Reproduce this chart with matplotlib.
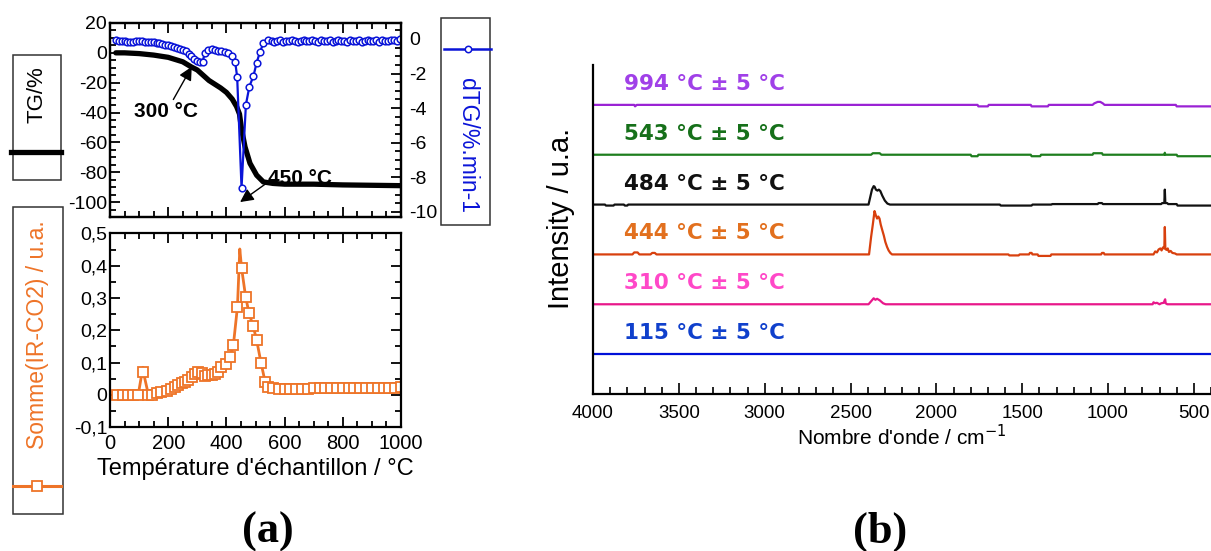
import matplotlib
matplotlib.use('Agg')
import matplotlib.pyplot as plt
from matplotlib.ticker import MultipleLocator
from matplotlib.patches import Rectangle
from matplotlib.lines import Line2D

plt.rcParams['font.family'] = ['Liberation Sans', 'DejaVu Sans']
plt.rcParams['axes.unicode_minus'] = False

# --- (a) TG / dTG ---
tg_t = [20, 50, 100, 150, 200, 250, 280, 300, 320, 340, 360, 380, 400, 420, 435, 445,
        452, 464, 481, 504, 527, 560, 600, 700, 800, 1000]
tg_v = [0, 0, -0.5, -1.5, -3, -6, -9.5, -11.5, -15, -18.5, -21, -23.5, -26.5, -31, -36, -41,
        -51, -63, -74, -82, -86.5, -87.5, -88, -88, -88.5, -89]

dtg_t = [20, 30, 40, 50, 60, 70, 80, 90, 100, 110, 120, 130, 140, 150, 160, 170, 180, 190,
         200, 210, 220, 230, 240, 250, 260, 270, 280, 290, 300, 310, 318, 326, 338, 350, 362,
         372, 382, 394, 407, 418, 430, 437, 452, 467, 479, 493, 504, 515, 527, 544,
         555, 565, 575, 585, 595, 605, 615, 625, 635, 645, 655, 665, 675, 685, 695, 705, 715,
         725, 735, 745, 755, 765, 775, 785, 795, 805, 815, 825, 835, 845, 855, 865, 875, 885,
         895, 905, 915, 925, 935, 945, 955, 965, 975, 985, 995]
dtg_v = [-0.05, -0.1, -0.1, -0.12, -0.15, -0.15, -0.15, -0.12, -0.1, -0.12, -0.15, -0.15,
         -0.18, -0.2, -0.22, -0.25, -0.3, -0.35, -0.38, -0.42, -0.45, -0.5, -0.58, -0.65,
         -0.72, -0.85, -1.0, -1.15, -1.3, -1.32, -1.31, -0.83, -0.65, -0.6, -0.62, -0.7, -0.72,
         -0.75, -0.83, -1.0, -1.31, -2.2, -8.6, -3.8, -2.75, -2.14, -1.37, -0.77, -0.25, -0.06,
         -0.1, -0.15, -0.12, -0.08, -0.15, -0.1, -0.12, -0.08, -0.1, -0.15, -0.1, -0.08, -0.12,
         -0.1, -0.05, -0.12, -0.15, -0.08, -0.1, -0.12, -0.05, -0.15, -0.1, -0.08, -0.12, -0.1,
         -0.15, -0.05, -0.1, -0.12, -0.08, -0.15, -0.1, -0.05, -0.12, -0.1, -0.08, -0.15, -0.05,
         -0.1, -0.12, -0.08, -0.05, -0.1, -0.02]

# --- (a) Somme(IR-CO2) ---
co2_t = [25, 43, 61, 79, 97, 113, 115, 132, 145, 160, 175, 195, 210, 223, 235, 246, 258, 269,
         281, 292, 303, 315, 326, 338, 349, 360, 372, 383, 397, 412, 424, 438, 446, 452, 466,
         478, 492, 504, 519, 533, 544, 560, 580, 600, 620, 640, 660, 680, 700, 720, 740, 760,
         780, 800, 820, 840, 860, 880, 900, 920, 940, 960, 980, 1000]
co2_v = [0, 0, 0, 0, 0, 0.085, 0.069, 0, 0, 0.005, 0.008, 0.012, 0.018, 0.025, 0.03, 0.035,
         0.04, 0.047, 0.055, 0.064, 0.069, 0.068, 0.059, 0.06, 0.061, 0.065, 0.072, 0.085,
         0.096, 0.116, 0.154, 0.273, 0.452, 0.394, 0.304, 0.252, 0.213, 0.169, 0.099, 0.04,
         0.024, 0.02, 0.019, 0.019, 0.018, 0.018, 0.018, 0.018, 0.022, 0.022, 0.022, 0.022,
         0.022, 0.022, 0.022, 0.022, 0.022, 0.022, 0.022, 0.022, 0.022, 0.022, 0.022, 0.024]
co2_nomark = [5, 32]

# --- (b) IR spectra ---
labels_b = ['115 °C ± 5 °C', '310 °C ± 5 °C', '444 °C ± 5 °C',
            '484 °C ± 5 °C', '543 °C ± 5 °C', '994 °C ± 5 °C']

wn_115 = [4000, 400]
i_115 = [0, 0]

wn_310 = [4000, 2395, 2380, 2365, 2355, 2345, 2330, 2310, 2295, 740, 735, 725, 715, 700,
          690, 675, 670, 667, 664, 655, 400]
i_310 = [0, 0, 0.06, 0.12, 0.09, 0.11, 0.08, 0.02, 0, 0, 0.04, 0.02, 0.03, 0, 0.02, 0.03,
         0.08, 0.1, 0.02, 0, 0]

wn_444 = [4000, 3770, 3760, 3740, 3730, 3665, 3655, 3640, 3630, 2392, 2380, 2370, 2360,
          2352, 2345, 2338, 2331, 2324, 2316, 2306, 2297, 2287, 2278, 2268, 2258, 1580,
          1575, 1520, 1515, 1460, 1455, 1445, 1440, 1410, 1405, 1335, 1330, 1040, 1035,
          1025, 1020, 735, 725, 715, 705, 695, 688, 680, 672, 669, 666, 660, 652, 645, 635,
          625, 610, 600, 400]
i_444 = [0, 0, 0.04, 0.04, 0, 0, 0.03, 0.03, 0, 0, 0.35, 0.6, 0.87, 0.78, 0.72, 0.76, 0.72,
         0.6, 0.5, 0.38, 0.25, 0.15, 0.08, 0.03, 0, 0, -0.02, -0.02, 0, 0, 0.03, 0.03, 0, 0,
         -0.03, -0.03, 0, 0, 0.03, 0.03, 0, 0, 0.06, 0.04, 0.1, 0.12, 0.08, 0.14, 0.12, 0.55,
         0.12, 0.09, 0.12, 0.05, 0.07, 0.03, 0.02, 0, 0]

wn_484 = [4000, 3930, 3925, 3880, 3875, 3820, 3815, 3800, 3795, 2395, 2385, 2375, 2365,
          2360, 2352, 2343, 2335, 2326, 2315, 2300, 2285, 2270, 1630, 1625, 1445, 1440,
          1330, 1325, 1060, 1055, 1035, 1030, 690, 685, 672, 669, 666, 655, 650, 600, 595, 400]
i_484 = [0, 0, -0.02, -0.02, 0, 0, -0.02, -0.02, 0, 0, 0.15, 0.3, 0.37, 0.36, 0.3, 0.28,
         0.3, 0.27, 0.18, 0.08, 0.02, 0, 0, -0.02, -0.02, 0, 0, 0.01, 0.01, 0.03, 0.03,
         0.01, 0.01, 0.03, 0.03, 0.3, 0.03, 0.03, 0.01, 0.01, -0.02, -0.02]

wn_543 = [4000, 2380, 2370, 2330, 2320, 1800, 1795, 1760, 1755, 1450, 1445, 1395, 1390,
          1090, 1085, 1035, 1030, 672, 669, 666, 600, 595, 400]
i_543 = [0, 0, 0.03, 0.03, 0, 0, -0.03, -0.03, 0, 0, -0.03, -0.03, 0, 0, 0.03, 0.03, 0, 0,
         0.04, 0, 0, -0.03, -0.03]

wn_994 = [4000, 3760, 3755, 3745, 1760, 1755, 1700, 1695, 1450, 1445, 1350, 1345, 1090,
          1080, 1060, 1045, 1030, 1020, 605, 600, 400]
i_994 = [0, 0, -0.03, 0, 0, -0.03, -0.03, 0, 0, -0.03, -0.03, 0, 0, 0.03, 0.06, 0.06, 0.03,
         0, 0, -0.03, -0.03]

spectra = [(wn_115, i_115), (wn_310, i_310), (wn_444, i_444),
           (wn_484, i_484), (wn_543, i_543), (wn_994, i_994)]
line_colors = ['#0010d8', '#e8188a', '#d8400e', '#111111', '#1e7e1e', '#9a22d4']
text_colors = ['#1040cc', '#ff48c8', '#e2701e', '#111111', '#16701a', '#a040e8']

orange = '#ee7428'
blue = '#0a14d8'

W, H = 1211, 551
fig = plt.figure(figsize=(W / 100, H / 100), dpi=100)


def fx(px):
    return px / W


def fy(py):
    return 1 - py / H


def frame(ax):
    for s in ax.spines.values():
        s.set_linewidth(1.6)
    ax.tick_params(which='both', direction='in', width=1.3, labelsize=14)
    ax.tick_params(which='major', length=7)
    ax.tick_params(which='minor', length=4)


# top-left: TG + dTG
ax1 = fig.add_axes([fx(110), fy(217), fx(291), 194 / H])
ax1.plot(tg_t, tg_v, color='black', lw=3.8, solid_capstyle='round')
ax1.set_xlim(0, 1000)
ax1.set_ylim(-110, 20)
ax1.set_yticks(range(-100, 21, 20))
ax1.set_xticks(range(0, 1001, 200))
ax1.xaxis.set_minor_locator(MultipleLocator(50))
ax1.yaxis.set_minor_locator(MultipleLocator(5))
frame(ax1)
ax1.tick_params(which='both', top=True, right=False, labelbottom=False)
ax1.tick_params(axis='y', pad=2)

ax1.annotate('300 °C', xy=(281, -9.3), xytext=(84, -39.5), fontsize=15, fontweight='bold',
             va='center', ha='left',
             arrowprops=dict(arrowstyle='-|>', color='black', lw=1, mutation_scale=20,
                             shrinkA=0, shrinkB=0),
             zorder=5)
ax1.annotate('', xy=(447, -100), xytext=(544, -86.5),
             arrowprops=dict(arrowstyle='-|>', color='black', lw=1, mutation_scale=20,
                             shrinkA=0, shrinkB=0))
ax1.text(543, -84, '450 °C', fontsize=15, fontweight='bold', va='center', ha='left')

ax1b = ax1.twinx()
ax1b.plot(dtg_t, dtg_v, color=blue, lw=1.6, marker='o', ms=4.8, mfc='white', mec=blue,
          mew=1.1)
ax1b.set_ylim(-10.29, 0.92)
ax1b.set_yticks(range(-10, 1, 2))
ax1b.yaxis.set_minor_locator(MultipleLocator(0.5))
frame(ax1b)
ax1b.tick_params(axis='y', which='both', right=True, left=False, pad=6)

# bottom-left: Somme(IR-CO2)
ax2 = fig.add_axes([fx(110), fy(427), fx(291), 193.5 / H])
marks = [i for i in range(len(co2_t)) if i not in co2_nomark]
ax2.plot(co2_t, co2_v, color=orange, lw=2, marker='s', ms=7, mfc='white', mec=orange,
         mew=1.3, markevery=marks)
ax2.set_xlim(0, 1000)
ax2.set_ylim(-0.1, 0.5)
ax2.set_xticks(range(0, 1001, 200))
ax2.set_yticks([-0.1, 0, 0.1, 0.2, 0.3, 0.4, 0.5])
ax2.set_yticklabels(['-0,1', '0', '0,1', '0,2', '0,3', '0,4', '0,5'])
ax2.xaxis.set_minor_locator(MultipleLocator(50))
ax2.yaxis.set_minor_locator(MultipleLocator(0.05))
frame(ax2)
ax2.tick_params(which='both', top=True, right=True)
ax2.tick_params(axis='y', pad=2)
ax2.tick_params(axis='x', labelsize=14.5, pad=5)
ax2.set_xlabel("Température d'échantillon / °C", fontsize=17, labelpad=4)

# legend boxes of (a)
fig.add_artist(Rectangle((fx(13), fy(180)), fx(48), 125 / H, fill=False, ec='#333333', lw=1.1))
fig.text(fx(37), fy(95), 'TG/%', rotation=90, fontsize=16, ha='center', va='center')
fig.add_artist(Line2D([fx(11), fx(61)], [fy(152), fy(152)], color='black', lw=3.8))

fig.add_artist(Rectangle((fx(13), fy(514)), fx(50), 307 / H, fill=False, ec='#333333', lw=1.1))
fig.text(fx(38), fy(335), 'Somme(IR-CO2) / u.a.', rotation=90, fontsize=16.5, color=orange,
         ha='center', va='center')
fig.add_artist(Line2D([fx(13), fx(61)], [fy(486), fy(486)], color=orange, lw=2.2))
fig.add_artist(Line2D([fx(37)], [fy(486)], color=orange, marker='s', ms=6.5, mfc='white',
                      mec=orange, mew=1.3))

fig.add_artist(Rectangle((fx(441), fy(225)), fx(49), 207 / H, fill=False, ec='#333333', lw=1.1))
fig.text(fx(468), fy(146), 'dTG/%.min-1', rotation=270, fontsize=16.5, color=blue,
         ha='center', va='center')
fig.add_artist(Line2D([fx(444), fx(491)], [fy(49), fy(49)], color=blue, lw=1.8))
fig.add_artist(Line2D([fx(468)], [fy(49)], color=blue, marker='o', ms=4.6, mfc='white',
                      mec=blue, mew=1.1))

# right: spectra
ax3 = fig.add_axes([fx(593), fy(394), fx(W - 593), 329 / H])
for k, (wn, inten) in enumerate(spectra):
    ax3.plot(wn, [k + v for v in inten], color=line_colors[k], lw=1.6)
    ax3.text(3820, k + 0.42, labels_b[k], color=text_colors[k], fontsize=15.5,
             fontweight='bold', va='center', ha='left', family=['DejaVu Sans'])
ax3.set_xlim(4000, 400)
ax3.set_ylim(-0.8, 5.8)
ax3.set_xticks(range(4000, 400, -500))
ax3.xaxis.set_minor_locator(MultipleLocator(100))
ax3.set_yticks([])
ax3.spines['top'].set_visible(False)
ax3.spines['right'].set_visible(False)
for s in ['left', 'bottom']:
    ax3.spines[s].set_linewidth(1.6)
ax3.tick_params(axis='x', which='both', direction='in', width=1.2, pad=8, labelsize=13.5)
ax3.tick_params(axis='x', which='major', length=8)
ax3.tick_params(axis='x', which='minor', length=5)
ax3.set_xlabel("Nombre d'onde / cm$^{-1}$", fontsize=15, labelpad=1)
fig.text(fx(561), fy(218), 'Intensity / u.a.', rotation=90, fontsize=21, ha='center',
         va='center')

fig.text(fx(268), fy(532), '(a)', fontsize=32, fontweight='bold', family='Liberation Serif',
         ha='center', va='center')
fig.text(fx(880), fy(532), '(b)', fontsize=32, fontweight='bold', family='Liberation Serif',
         ha='center', va='center')

fig.savefig('out.png', dpi=100)
